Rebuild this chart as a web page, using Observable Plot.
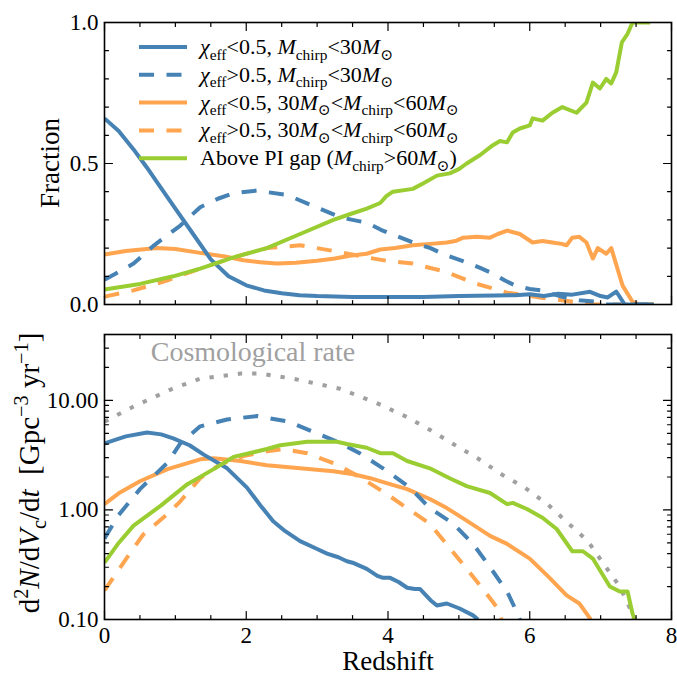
<!DOCTYPE html>
<html><head><meta charset="utf-8">
<script src="https://cdn.jsdelivr.net/npm/d3@7"></script>
<script src="https://cdn.jsdelivr.net/npm/@observablehq/plot@0.6"></script>
<style>
body{margin:0;background:#fff;}
#chart{position:relative;width:677px;height:675px;overflow:hidden;}
#chart svg{display:block;}
</style></head><body><div id="chart"></div><script>
// ---------- DATA ----------
const seriesNames = [
  "chi_eff<0.5, Mchirp<30",
  "chi_eff>0.5, Mchirp<30",
  "chi_eff<0.5, 30<Mchirp<60",
  "chi_eff>0.5, 30<Mchirp<60",
  "Above PI gap (Mchirp>60)"
];
// Top panel: fraction vs redshift, [z, fraction]
const fracLowSpinLight = [[0,0.66],[0.2,0.615],[0.41,0.55],[0.6,0.485],[0.75,0.43],[1.0,0.34],[1.25,0.25],[1.5,0.16],[1.75,0.1],[2.0,0.068],[2.25,0.05],[2.5,0.04],[2.75,0.033],[3.0,0.03],[3.5,0.027],[4.0,0.027],[4.5,0.027],[5.0,0.03],[5.5,0.032],[5.8,0.033],[6.0,0.036],[6.2,0.03],[6.4,0.038],[6.6,0.035],[6.85,0.045],[7.0,0.03],[7.1,0.025],[7.22,0.046],[7.34,0.0],[7.75,0]];
const fracHighSpinLight = [[0,0.088],[0.2,0.115],[0.41,0.145],[0.7,0.21],[1.07,0.28],[1.35,0.345],[1.6,0.375],[1.82,0.395],[2.15,0.404],[2.58,0.388],[2.94,0.35],[3.32,0.31],[3.5,0.3],[3.7,0.29],[3.9,0.265],[4.1,0.245],[4.35,0.22],[4.6,0.2],[4.77,0.18],[5.1,0.15],[5.3,0.13],[5.48,0.11],[5.65,0.085],[5.8,0.067],[6.0,0.055],[6.18,0.05],[6.35,0.035],[6.5,0.025],[6.7,0.015],[6.94,0.01],[7.1,0],[7.75,0]];
const fracLowSpinHeavy = [[0,0.177],[0.3,0.19],[0.74,0.2],[1.0,0.197],[1.35,0.183],[1.7,0.17],[1.96,0.157],[2.2,0.15],[2.43,0.145],[2.7,0.148],[3.0,0.155],[3.25,0.163],[3.46,0.173],[3.7,0.18],[3.89,0.195],[4.1,0.2],[4.35,0.21],[4.6,0.215],[4.83,0.22],[4.95,0.225],[5.06,0.237],[5.25,0.24],[5.44,0.237],[5.55,0.25],[5.68,0.262],[5.86,0.25],[5.95,0.235],[6.04,0.22],[6.18,0.225],[6.32,0.22],[6.45,0.215],[6.52,0.21],[6.6,0.237],[6.7,0.24],[6.8,0.22],[6.89,0.163],[6.96,0.2],[7.08,0.18],[7.15,0.2],[7.31,0.067],[7.45,0.01],[7.55,0],[7.75,0]];
const fracHighSpinHeavy = [[0,0.028],[0.41,0.05],[0.88,0.085],[1.35,0.127],[1.82,0.167],[2.29,0.2],[2.76,0.21],[3.23,0.19],[3.7,0.167],[3.98,0.155],[4.35,0.145],[4.83,0.115],[5.2,0.077],[5.68,0.042],[6.14,0.025],[6.7,0.007],[6.9,0],[7.75,0]];
const fracAboveGap = [[0,0.053],[0.5,0.073],[0.97,0.1],[1.35,0.127],[1.82,0.167],[2.29,0.2],[2.76,0.25],[3.23,0.3],[3.46,0.32],[3.7,0.34],[3.89,0.36],[3.98,0.385],[4.07,0.4],[4.35,0.41],[4.5,0.43],[4.69,0.457],[4.87,0.465],[5.0,0.48],[5.11,0.5],[5.3,0.53],[5.48,0.565],[5.58,0.58],[5.68,0.575],[5.76,0.61],[5.86,0.624],[6.0,0.635],[6.04,0.66],[6.18,0.652],[6.32,0.68],[6.46,0.7],[6.66,0.68],[6.8,0.716],[6.89,0.787],[6.99,0.766],[7.08,0.8],[7.15,0.784],[7.22,0.823],[7.3,0.93],[7.38,0.96],[7.45,1.0],[7.7,1.0]];

// Bottom panel: rate density [Gpc^-3 yr^-1] vs redshift, [z, rate]
const rateCosmological = [[0,6.4],[0.41,8.8],[0.96,12.8],[1.35,15.8],[1.92,17.6],[2.2,17.6],[2.66,15.8],[3.32,12.8],[3.85,9.4],[4.24,7.2],[4.59,5.4],[4.92,4.0],[5.27,2.95],[5.61,2.1],[5.93,1.6],[6.25,1.13],[6.54,0.76],[6.82,0.52],[7.06,0.31],[7.27,0.2],[7.44,0.116],[7.47,0.1]];
const rateLowSpinLight = [[0,4.06],[0.3,4.7],[0.6,5.1],[0.8,4.9],[0.97,4.5],[1.2,3.9],[1.4,3.2],[1.73,2.4],[2.01,1.6],[2.2,1.1],[2.38,0.79],[2.55,0.64],[2.76,0.52],[3.0,0.44],[3.14,0.4],[3.3,0.37],[3.42,0.34],[3.5,0.33],[3.7,0.29],[3.85,0.25],[3.93,0.24],[4.03,0.24],[4.15,0.22],[4.27,0.195],[4.38,0.19],[4.45,0.19],[4.6,0.15],[4.69,0.134],[4.83,0.14],[5.01,0.126],[5.2,0.109],[5.27,0.1]];
const rateHighSpinLight = [[0,0.55],[0.2,0.9],[0.5,1.55],[0.89,2.7],[1.07,4.06],[1.35,5.8],[1.73,6.7],[2.15,7.2],[2.58,6.45],[2.94,5.2],[3.32,4.1],[3.6,3.3],[3.93,2.4],[4.31,1.6],[4.59,1.04],[4.92,0.75],[5.2,0.49],[5.44,0.3],[5.68,0.18],[5.82,0.116],[5.86,0.1]];
const rateLowSpinHeavy = [[0,1.13],[0.2,1.42],[0.5,1.83],[0.89,2.36],[1.35,2.9],[1.54,2.97],[1.92,2.8],[2.29,2.56],[2.76,2.4],[3.23,2.26],[3.51,2.12],[3.75,1.95],[3.98,1.76],[4.27,1.55],[4.59,1.26],[4.83,1.04],[5.11,0.8],[5.44,0.58],[5.68,0.49],[6.0,0.36],[6.28,0.24],[6.52,0.166],[6.7,0.14],[6.82,0.109],[6.86,0.1]];
const rateHighSpinHeavy = [[0,0.184],[0.32,0.37],[0.55,0.6],[0.89,0.92],[1.07,1.2],[1.35,1.95],[1.63,2.6],[1.96,3.1],[2.29,3.43],[2.52,3.6],[2.86,3.3],[3.28,2.6],[3.6,2.0],[3.98,1.4],[4.27,1.04],[4.59,0.75],[4.87,0.45],[5.11,0.29],[5.34,0.19],[5.55,0.126],[5.6,0.1]];
const rateAboveGap = [[0,0.33],[0.2,0.5],[0.41,0.72],[0.79,1.09],[1.17,1.72],[1.54,2.36],[1.82,3.05],[2.29,3.6],[2.48,3.9],[2.86,4.2],[3.28,4.2],[3.42,4.0],[3.7,3.7],[3.89,3.3],[4.07,3.3],[4.27,2.8],[4.59,2.4],[4.87,1.95],[5.11,1.65],[5.44,1.43],[5.68,1.13],[5.76,1.16],[5.96,1.02],[6.18,0.85],[6.38,0.67],[6.6,0.42],[6.75,0.42],[6.89,0.36],[7.13,0.2],[7.27,0.18],[7.38,0.18],[7.45,0.113],[7.48,0.1]];

// Tick values
const xMajorTicks = [0,2,4,6,8];
const xMinorTicks = [0.5,1,1.5,2.5,3,3.5,4.5,5,5.5,6.5,7,7.5];
const fracMajorTicks = [0,0.5,1];
const fracMinorTicks = [0.1,0.2,0.3,0.4,0.6,0.7,0.8,0.9];
const rateMajorTicks = [0.1,1,10];
const rateMinorTicks = [0.2,0.3,0.4,0.5,0.6,0.7,0.8,0.9,2,3,4,5,6,7,8,9,20,30];

// ---------- STYLE ----------
const BLUE = "#4682b4", ORANGE = "#ffa54f", GREEN = "#9acd32", GRAY = "#a0a0a0";
const DASH = "15,12.5", DOT = "4.3,10";
const FONT = "'Liberation Serif', 'DejaVu Serif', serif";
const W = 677, ML = 104, MR = 6;
const LW = 4;
const TICKFS = 23;

const tickShape = {draw(ctx, l) { ctx.moveTo(0, 0); ctx.lineTo(0, -l); }};
function frameTicks(dim, values, len) {
  const common = {length: len, anchor: "start", shape: tickShape, stroke: "black", strokeWidth: 1.2};
  if (dim === "x") return [
    Plot.vector(values, {...common, x: d => d, frameAnchor: "bottom", rotate: 0}),
    Plot.vector(values, {...common, x: d => d, frameAnchor: "top", rotate: 180})
  ];
  return [
    Plot.vector(values, {...common, y: d => d, frameAnchor: "left", rotate: 90}),
    Plot.vector(values, {...common, y: d => d, frameAnchor: "right", rotate: -90})
  ];
}
function seriesLine(data, color, dash) {
  return Plot.line(data, {x: d => d[0], y: d => d[1], stroke: color, strokeWidth: LW,
    strokeDasharray: dash || null, strokeLinejoin: "round", strokeLinecap: "butt", clip: true});
}

// ---------- TOP PANEL ----------
const topPlot = Plot.plot({
  width: W, height: 320, marginLeft: ML, marginRight: MR, marginTop: 22, marginBottom: 16,
  style: {fontFamily: FONT, fontSize: TICKFS + "px", color: "black", background: "white", overflow: "visible"},
  x: {domain: [0, 8]},
  y: {domain: [0, 1]},
  marks: [
    seriesLine(fracHighSpinHeavy, ORANGE, DASH),
    seriesLine(fracLowSpinHeavy, ORANGE),
    seriesLine(fracHighSpinLight, BLUE, DASH),
    seriesLine(fracLowSpinLight, BLUE),
    seriesLine(fracAboveGap, GREEN),
    Plot.axisY({ticks: fracMajorTicks, tickSize: 0, tickPadding: 6, tickFormat: d3.format(".1f"), label: null, fontSize: TICKFS}),
    Plot.axisX({ticks: [], label: null}),
    ...frameTicks("x", xMajorTicks, 8),
    ...frameTicks("x", xMinorTicks, 4),
    ...frameTicks("y", fracMajorTicks, 8),
    ...frameTicks("y", fracMinorTicks, 4),
    Plot.frame({stroke: "black", strokeWidth: 1.6})
  ]
});

// ---------- BOTTOM PANEL ----------
const bottomPlot = Plot.plot({
  width: W, height: 355, marginLeft: ML, marginRight: MR, marginTop: 14, marginBottom: 56,
  style: {fontFamily: FONT, fontSize: TICKFS + "px", color: "black", background: "white", overflow: "visible"},
  x: {domain: [0, 8]},
  y: {type: "log", domain: [0.1, 40]},
  marks: [
    seriesLine(rateCosmological, GRAY, DOT),
    seriesLine(rateHighSpinHeavy, ORANGE, DASH),
    seriesLine(rateLowSpinHeavy, ORANGE),
    seriesLine(rateHighSpinLight, BLUE, DASH),
    seriesLine(rateLowSpinLight, BLUE),
    seriesLine(rateAboveGap, GREEN),
    Plot.axisY({ticks: rateMajorTicks, tickSize: 0, tickPadding: 6, tickFormat: d3.format(".2f"), label: null, fontSize: TICKFS}),
    Plot.axisX({ticks: xMajorTicks, tickSize: 0, tickPadding: 7, tickFormat: d3.format("d"), label: null, fontSize: TICKFS}),
    ...frameTicks("x", xMajorTicks, 8),
    ...frameTicks("x", xMinorTicks, 4),
    ...frameTicks("y", rateMajorTicks, 8),
    ...frameTicks("y", rateMinorTicks, 4),
    Plot.frame({stroke: "black", strokeWidth: 1.6})
  ]
});

const chart = document.getElementById("chart");
chart.appendChild(topPlot);
chart.appendChild(bottomPlot);

// ---------- RICH TEXT HELPERS ----------
function richText(parent, parts, size, attrs) {
  const t = parent.append("text").attr("font-family", FONT).attr("font-size", size).attr("text-anchor", "start");
  for (const [k, v] of Object.entries(attrs || {})) t.attr(k, v);
  let shift = 0;
  for (const [str, kind] of parts) {
    const s = t.append("tspan").text(str);
    let target = 0, fs = size;
    if (kind === "sub") { target = size * 0.25; fs = size * 0.7; }
    else if (kind === "sup") { target = -size * 0.38; fs = size * 0.7; }
    s.attr("dy", target - shift).attr("font-size", fs);
    if (kind === "i") s.attr("font-style", "italic");
    shift = target;
  }
  return t;
}

// ---------- LEGEND ----------
const sTop = d3.select(topPlot);
const legendRows = [
  {color: BLUE, dash: null, parts: [["χ","i"],["eff","sub"],["<0.5, ",""],["M","i"],["chirp","sub"],["<30",""],["M","i"],["⊙","sub"]]},
  {color: BLUE, dash: DASH, parts: [["χ","i"],["eff","sub"],[">0.5, ",""],["M","i"],["chirp","sub"],["<30",""],["M","i"],["⊙","sub"]]},
  {color: ORANGE, dash: null, parts: [["χ","i"],["eff","sub"],["<0.5, 30",""],["M","i"],["⊙","sub"],["<",""],["M","i"],["chirp","sub"],["<60",""],["M","i"],["⊙","sub"]]},
  {color: ORANGE, dash: DASH, parts: [["χ","i"],["eff","sub"],[">0.5, 30",""],["M","i"],["⊙","sub"],["<",""],["M","i"],["chirp","sub"],["<60",""],["M","i"],["⊙","sub"]]},
  {color: GREEN, dash: null, parts: [["Above PI gap (",""],["M","i"],["chirp","sub"],[">60",""],["M","i"],["⊙","sub"],[")",""]]}
];
const lg = sTop.append("g");
legendRows.forEach((r, i) => {
  const y = 47 + i * 27.8;
  lg.append("line").attr("x1", 139).attr("x2", 187).attr("y1", y).attr("y2", y)
    .attr("stroke", r.color).attr("stroke-width", LW).attr("stroke-dasharray", r.dash);
  richText(lg, r.parts, 22, {x: 200, y: y + 7, fill: "black"});
});

// Y label top
sTop.append("text").attr("transform", "translate(59,163) rotate(-90)")
  .attr("text-anchor", "middle").attr("font-family", FONT).attr("font-size", 27).text("Fraction");

// ---------- BOTTOM ANNOTATIONS ----------
const sBot = d3.select(bottomPlot);
sBot.append("text").attr("x", 253).attr("y", 41).attr("text-anchor", "middle")
  .attr("font-family", FONT).attr("font-size", 28).attr("fill", GRAY).text("Cosmological rate");
sBot.append("text").attr("x", 388).attr("y", 350).attr("text-anchor", "middle")
  .attr("font-family", FONT).attr("font-size", 27).text("Redshift");
const yl = sBot.append("g").attr("transform", "translate(39,153) rotate(-90)");
richText(yl, [["d",""],["2","sup"],["N","i"],["/d",""],["V","i"],["c","sub"],["/d",""],["t","i"],["  [Gpc",""],["−3","sup"],[" yr",""],["−1","sup"],["]",""]], 29, {"text-anchor": "middle", fill: "black"});
</script></body></html>
